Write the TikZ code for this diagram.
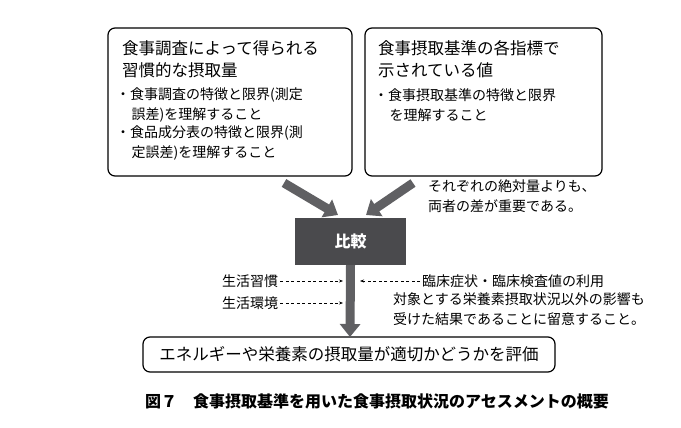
\documentclass[tikz,border=0pt]{standalone}
\usepackage{fontspec}
\setmainfont{Noto Sans CJK JP}
\usetikzlibrary{arrows.meta}
\definecolor{dk}{HTML}{4A4A4D}
\definecolor{ar}{HTML}{606063}
\begin{document}
\begin{tikzpicture}[x=1pt,y=-1pt,
 box/.style={draw=black,line width=1.2pt,rounded corners=7pt},
 big/.style={ar,line width=9pt,-{Triangle[width=20pt,length=13pt]}},
 dsh/.style={dash pattern=on 3pt off 2.5pt,line width=0.6pt,-{Stealth[length=4pt]}},
 t/.style={font=\fontsize{16.5}{22}\selectfont,anchor=north west,align=left,inner sep=0},
 s/.style={font=\fontsize{14}{20}\selectfont,anchor=north west,align=left,inner sep=0}]
\useasboundingbox (0,0) rectangle (681,428);
\draw[box] (108,28) rectangle (352,176);
\draw[box] (365,28) rectangle (602,176);
\node[t] (lt) at (122,40) {食事調査によって得られる\\習慣的な摂取量};
\node[s] (l1) at (116,88) {・食事調査の特徴と限界(測定\\\hspace{1.1em}誤差)を理解すること};
\node[s] (l2) at (116,126) {・食品成分表の特徴と限界(測\\\hspace{1.1em}定誤差)を理解すること};
\node[t] (rt) at (378,40) {食事摂取基準の各指標で\\示されている値};
\node[s] (r1) at (374,88) {・食事摂取基準の特徴と限界\\\hspace{1.1em}を理解すること};
\coordinate (a1) at (284,183); \coordinate (a2) at (338,215);
\coordinate (b1) at (413,183); \coordinate (b2) at (366,215);
\draw[big] (a1) -- (a2);
\draw[big] (b1) -- (b2);
\node[s] (note) at (428,180) {それぞれの絶対量よりも、\\両者の差が重要である。};
\node[fill=dk,minimum width=111pt,minimum height=47pt,text=white,font=\fontsize{16}{18}\selectfont\bfseries] (cmp) at (350.5,241.5) {比較};
\draw[box] (143,337) rectangle (555,372);
\node[font=\fontsize{16.5}{18}\selectfont] (res) at (349,354.5) {エネルギーや栄養素の摂取量が適切かどうかを評価};
\coordinate (vb) at (350,337);
\draw[big] (cmp.south) -- (vb);
\node[s,anchor=west] (h1) at (222,281) {生活習慣};
\node[s,anchor=west] (h2) at (222,303) {生活環境};
\coordinate (h1e) at (343,281); \coordinate (h2e) at (343,303);
\draw[dsh] ([xshift=2pt]h1.east) -- (h1e);
\draw[dsh] ([xshift=2pt]h2.east) -- (h2e);
\node[s,anchor=west] (c1) at (422,281) {臨床症状・臨床検査値の利用};
\coordinate (c1e) at (360,281);
\draw[dsh] ([xshift=-2pt]c1.west) -- (c1e);
\node[s] (c2) at (393,292) {対象とする栄養素摂取状況以外の影響も\\受けた結果であることに留意すること。};
\node[font=\fontsize{16}{18}\selectfont\bfseries] (cap) at (377,401) {図７\hspace{1em}食事摂取基準を用いた食事摂取状況のアセスメントの概要};
\end{tikzpicture}
\end{document}
